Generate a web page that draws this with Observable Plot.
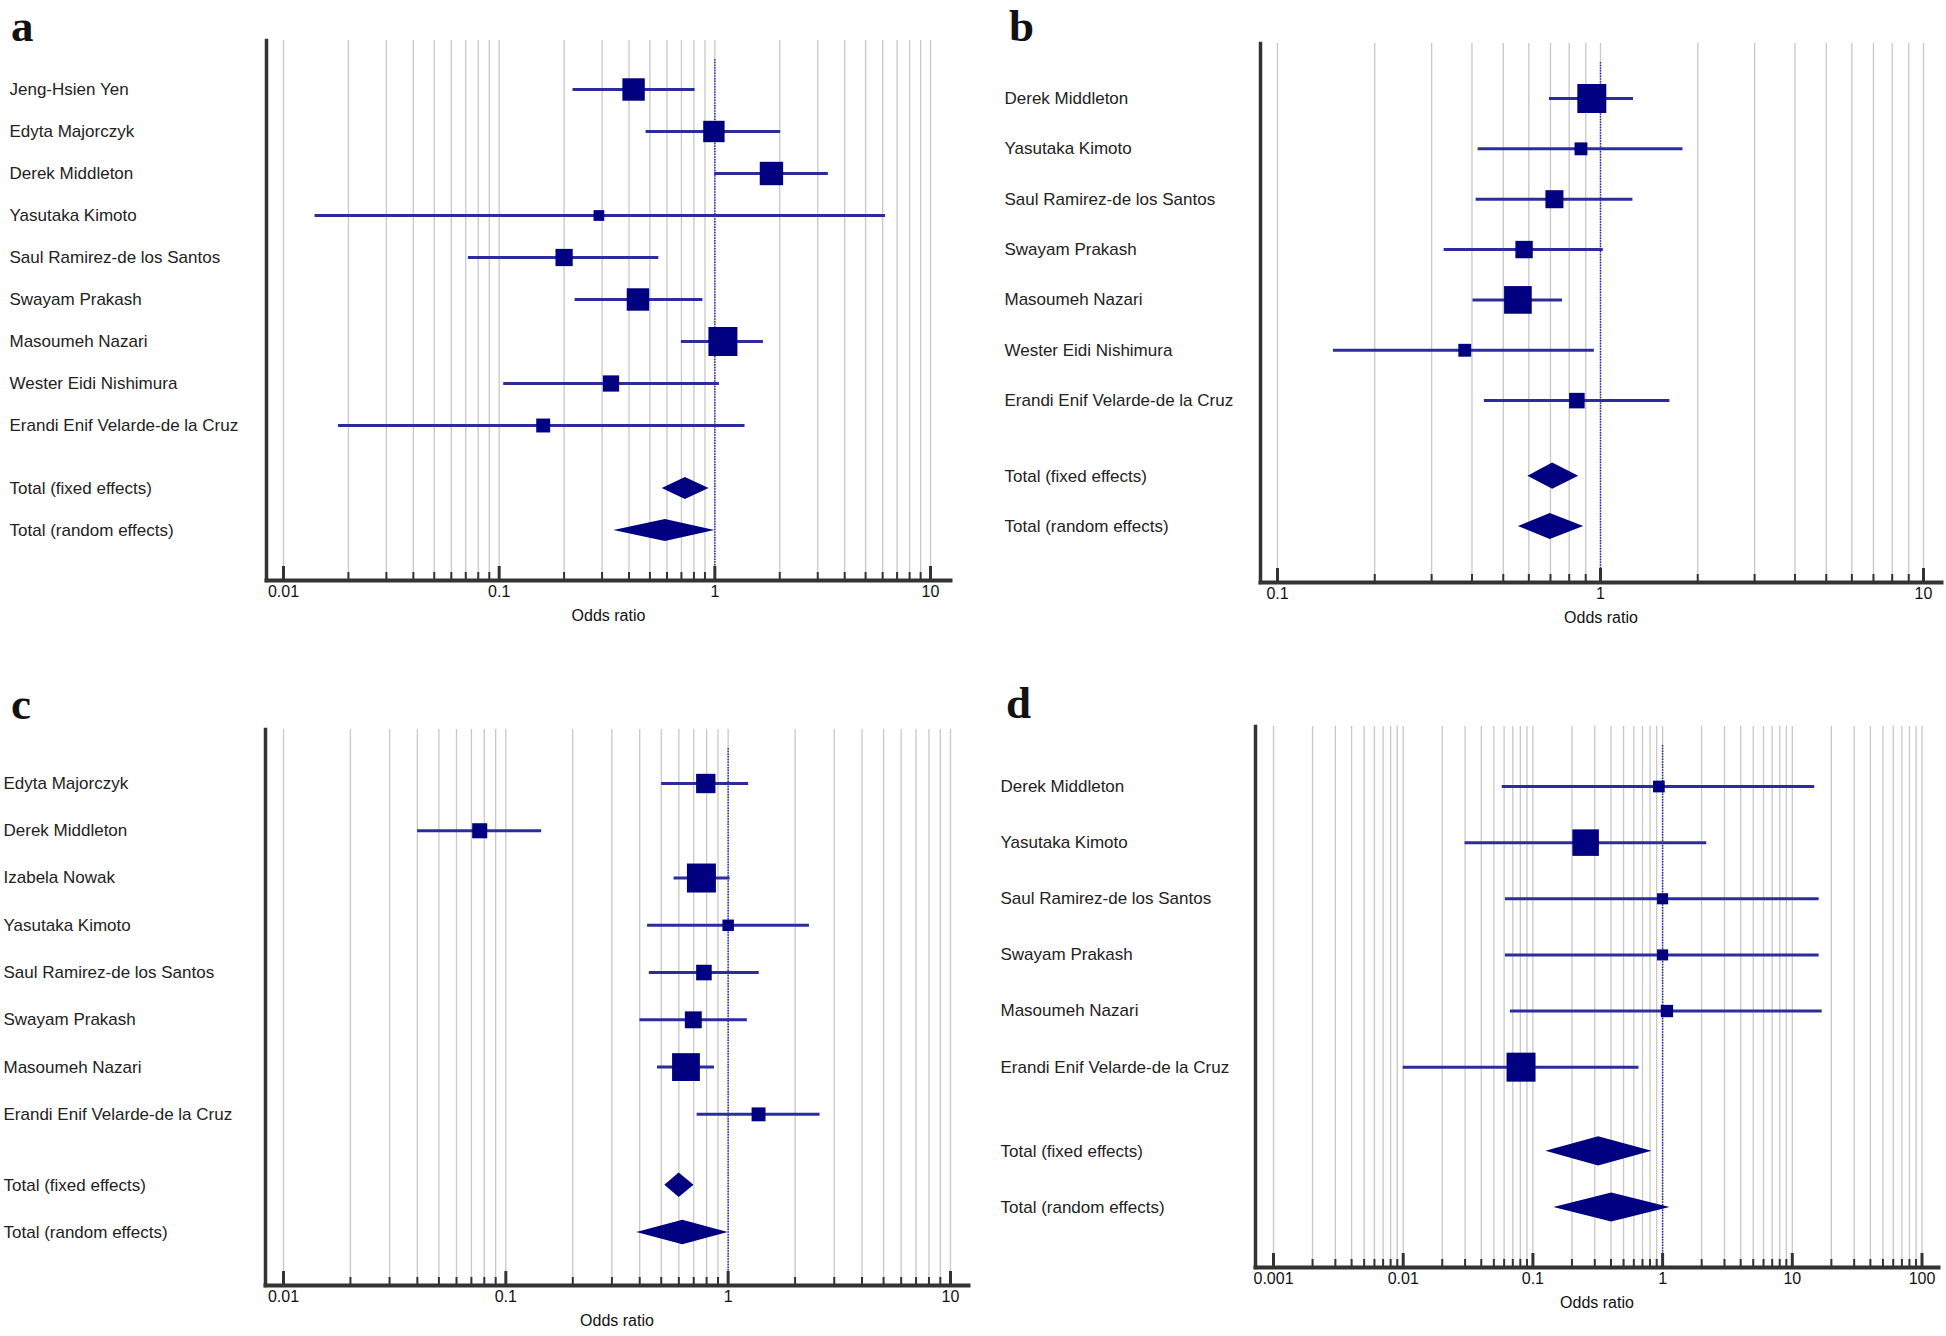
<!DOCTYPE html>
<html><head><meta charset="utf-8">
<script src="https://cdn.jsdelivr.net/npm/d3@7"></script>
<script src="https://cdn.jsdelivr.net/npm/@observablehq/plot@0.6"></script>
<style>
html,body{margin:0;padding:0;background:#fff;}
#root{position:relative;width:1946px;height:1336px;font-family:"Liberation Sans",Arial,sans-serif;overflow:hidden;}
.panel{position:absolute;}
.letter{position:absolute;font-family:"Liberation Serif","Times New Roman",serif;font-weight:bold;font-size:45px;line-height:normal;color:#111;}
</style></head><body><div id="root"></div>
<script>
// ---------- shared ----------
const totalNames = ["Total (fixed effects)", "Total (random effects)"];
const axisTitle = "Odds ratio";
const panelLetters = ["a", "b", "c", "d"];

// ---------- panel a ----------
const studiesA = ["Jeng-Hsien Yen","Edyta Majorczyk","Derek Middleton","Yasutaka Kimoto","Saul Ramirez-de los Santos","Swayam Prakash","Masoumeh Nazari","Wester Eidi Nishimura","Erandi Enif Velarde-de la Cruz"];
const orA     = [0.42, 0.99, 1.83, 0.29, 0.20, 0.44, 1.09, 0.33, 0.16];
const lowA    = [0.22, 0.48, 1.00, 0.014, 0.072, 0.225, 0.70, 0.105, 0.018];
const highA   = [0.81, 2.02, 3.36, 6.19, 0.55, 0.88, 1.68, 1.05, 1.38];
const weightA = [13.5, 12.3, 14.7, 3.1, 8.0, 13.5, 22.6, 7.1, 5.2];
const totalOrA   = [0.73, 0.59];
const totalLowA  = [0.57, 0.34];
const totalHighA = [0.94, 1.00];
const ticksA = [0.01, 0.1, 1, 10];
const tickLabelsA = ["0.01", "0.1", "1", "10"];

// ---------- panel b ----------
const studiesB = ["Derek Middleton","Yasutaka Kimoto","Saul Ramirez-de los Santos","Swayam Prakash","Masoumeh Nazari","Wester Eidi Nishimura","Erandi Enif Velarde-de la Cruz"];
const orB     = [0.94, 0.87, 0.72, 0.58, 0.555, 0.38, 0.845];
const lowB    = [0.695, 0.418, 0.412, 0.328, 0.403, 0.149, 0.437];
const highB   = [1.265, 1.80, 1.26, 1.02, 0.763, 0.957, 1.64];
const weightB = [30.0, 5.9, 11.6, 10.8, 27.3, 5.9, 8.6];
const totalOrB   = [0.711, 0.699];
const totalLowB  = [0.596, 0.557];
const totalHighB = [0.856, 0.887];
const ticksB = [0.1, 1, 10];
const tickLabelsB = ["0.1", "1", "10"];

// ---------- panel c ----------
const studiesC = ["Edyta Majorczyk","Derek Middleton","Izabela Nowak","Yasutaka Kimoto","Saul Ramirez-de los Santos","Swayam Prakash","Masoumeh Nazari","Erandi Enif Velarde-de la Cruz"];
const orC     = [0.793, 0.0763, 0.758, 1.00, 0.778, 0.697, 0.646, 1.37];
const lowC    = [0.502, 0.0401, 0.571, 0.434, 0.442, 0.401, 0.481, 0.725];
const highC   = [1.236, 0.145, 1.02, 2.32, 1.379, 1.22, 0.868, 2.59];
const weightC = [12.2, 7.4, 27.4, 4.3, 7.9, 9.3, 25.2, 6.3];
const totalOrC   = [0.602, 0.625];
const totalLowC  = [0.519, 0.388];
const totalHighC = [0.702, 1.00];
const ticksC = [0.01, 0.1, 1, 10];
const tickLabelsC = ["0.01", "0.1", "1", "10"];

// ---------- panel d ----------
const studiesD = ["Derek Middleton","Yasutaka Kimoto","Saul Ramirez-de los Santos","Swayam Prakash","Masoumeh Nazari","Erandi Enif Velarde-de la Cruz"];
const orD     = [0.936, 0.255, 1.00, 1.00, 1.08, 0.081];
const lowD    = [0.058, 0.030, 0.0614, 0.0614, 0.067, 0.010];
const highD   = [14.9, 2.19, 16.1, 16.1, 17.0, 0.658];
const weightD = [6.6, 33.8, 5.9, 5.9, 7.3, 40.4];
const totalOrD   = [0.321, 0.405];
const totalLowD  = [0.126, 0.145];
const totalHighD = [0.829, 1.14];
const ticksD = [0.001, 0.01, 0.1, 1, 10, 100];
const tickLabelsD = ["0.001", "0.01", "0.1", "1", "10", "100"];

// ---------- drawing ----------
const navy = "#000080", ciColor = "#2c2c9c", axisColor = "#333", gridColor = "#c8c8c8";

function forest(cfg) {
  const {names, est, lo, hi, w, tEst, tLo, tHi, ticks, tickLabels, layout} = cfg;
  const {width, height, mL, mR, mT, mB, xRange, yRange, labelX} = layout;
  const n = names.length;
  const studies = names.map((name, i) => ({name, pos: i, est: est[i], lo: lo[i], hi: hi[i], w: w[i]}));
  const totals = totalNames.map((name, j) => ({name, pos: n + 0.5 + j, est: tEst[j], lo: tLo[j], hi: tHi[j]}));
  const half = 0.26;
  const dia = totals.flatMap(t => [
    {name: t.name, y: t.pos - half, x1: t.est, x2: t.est},
    {name: t.name, y: t.pos, x1: t.lo, x2: t.hi},
    {name: t.name, y: t.pos + half, x1: t.est, x2: t.est}
  ]);
  const minor = [];
  for (let k = 0; k < ticks.length - 1; k++) for (let m = 2; m <= 9; m++) minor.push(ticks[k] * m);
  const frameH = height - mT - mB;
  return Plot.plot({
    width, height, marginLeft: mL, marginRight: mR, marginTop: mT, marginBottom: mB,
    x: {type: "log", domain: [ticks[0], ticks[ticks.length - 1]], range: xRange, axis: null},
    y: {domain: [0, n + 1.5], range: yRange, axis: null},
    r: {domain: [0, d3.max(w)], range: [0, 29 / Math.sqrt(Math.PI)]},
    style: {background: "transparent", fontFamily: "'Liberation Sans', Arial, sans-serif", overflow: "visible"},
    marks: [
      Plot.ruleX([...ticks, ...minor], {stroke: gridColor, strokeWidth: 1.3}),
      Plot.ruleX([1], {stroke: "#2a2ac4", strokeWidth: 1.5, strokeDasharray: "1.5,1.2", insetTop: 19}),
      Plot.ruleX(minor, {stroke: axisColor, strokeWidth: 2, insetTop: frameH - 8}),
      Plot.ruleX(ticks, {stroke: axisColor, strokeWidth: 3, insetTop: frameH - 14}),
      Plot.frame({anchor: "left", stroke: axisColor, strokeWidth: 3.5}),
      Plot.frame({anchor: "bottom", stroke: axisColor, strokeWidth: 4}),
      Plot.ruleY(studies, {y: "pos", x1: "lo", x2: "hi", stroke: ciColor, strokeWidth: 3}),
      Plot.dot(studies, {x: "est", y: "pos", r: "w", symbol: "square", fill: navy, stroke: "none"}),
      Plot.areaX(dia, {y: "y", x1: "x1", x2: "x2", z: "name", fill: navy}),
      Plot.text([...studies, ...totals], {y: "pos", text: "name", frameAnchor: "left", dx: labelX - mL, textAnchor: "start", fontSize: 17, fill: "#222"}),
      Plot.text(ticks, {x: d => d, text: (d, i) => tickLabels[i], frameAnchor: "bottom", dy: 16, fontSize: 16, fill: "#111"}),
      Plot.text([axisTitle], {frameAnchor: "bottom", dy: 40, fontSize: 16, fill: "#111"})
    ]
  });
}

const panels = [
  {names: studiesA, est: orA, lo: lowA, hi: highA, w: weightA, tEst: totalOrA, tLo: totalLowA, tHi: totalHighA, ticks: ticksA, tickLabels: tickLabelsA,
   box: {left: 0, top: 0}, letterPos: {left: 11, top: 0},
   layout: {width: 973, height: 660, mL: 266, mR: 23, mT: 40, mB: 80, xRange: [283, 930], yRange: [89, 530], labelX: 9}},
  {names: studiesB, est: orB, lo: lowB, hi: highB, w: weightB, tEst: totalOrB, tLo: totalLowB, tHi: totalHighB, ticks: ticksB, tickLabels: tickLabelsB,
   box: {left: 973, top: 0}, letterPos: {left: 1009, top: 0},
   layout: {width: 973, height: 660, mL: 287, mR: 5, mT: 43, mB: 78, xRange: [304, 950], yRange: [98, 526], labelX: 31}},
  {names: studiesC, est: orC, lo: lowC, hi: highC, w: weightC, tEst: totalOrC, tLo: totalLowC, tHi: totalHighC, ticks: ticksC, tickLabels: tickLabelsC,
   box: {left: 0, top: 680}, letterPos: {left: 11, top: 678},
   layout: {width: 973, height: 656, mL: 265, mR: 5, mT: 49, mB: 51, xRange: [283, 950], yRange: [103, 552], labelX: 3}},
  {names: studiesD, est: orD, lo: lowD, hi: highD, w: weightD, tEst: totalOrD, tLo: totalLowD, tHi: totalHighD, ticks: ticksD, tickLabels: tickLabelsD,
   box: {left: 973, top: 680}, letterPos: {left: 1006, top: 677},
   layout: {width: 973, height: 656, mL: 282, mR: 8, mT: 46, mB: 69, xRange: [300, 948.5], yRange: [106, 527], labelX: 27}}
];

const root = document.getElementById("root");
panels.forEach((p, i) => {
  const div = document.createElement("div");
  div.className = "panel";
  div.style.left = p.box.left + "px";
  div.style.top = p.box.top + "px";
  div.appendChild(forest(p));
  root.appendChild(div);
  const L = document.createElement("div");
  L.className = "letter";
  L.style.left = p.letterPos.left + "px";
  L.style.top = p.letterPos.top + "px";
  L.textContent = panelLetters[i];
  root.appendChild(L);
});
</script></body></html>
